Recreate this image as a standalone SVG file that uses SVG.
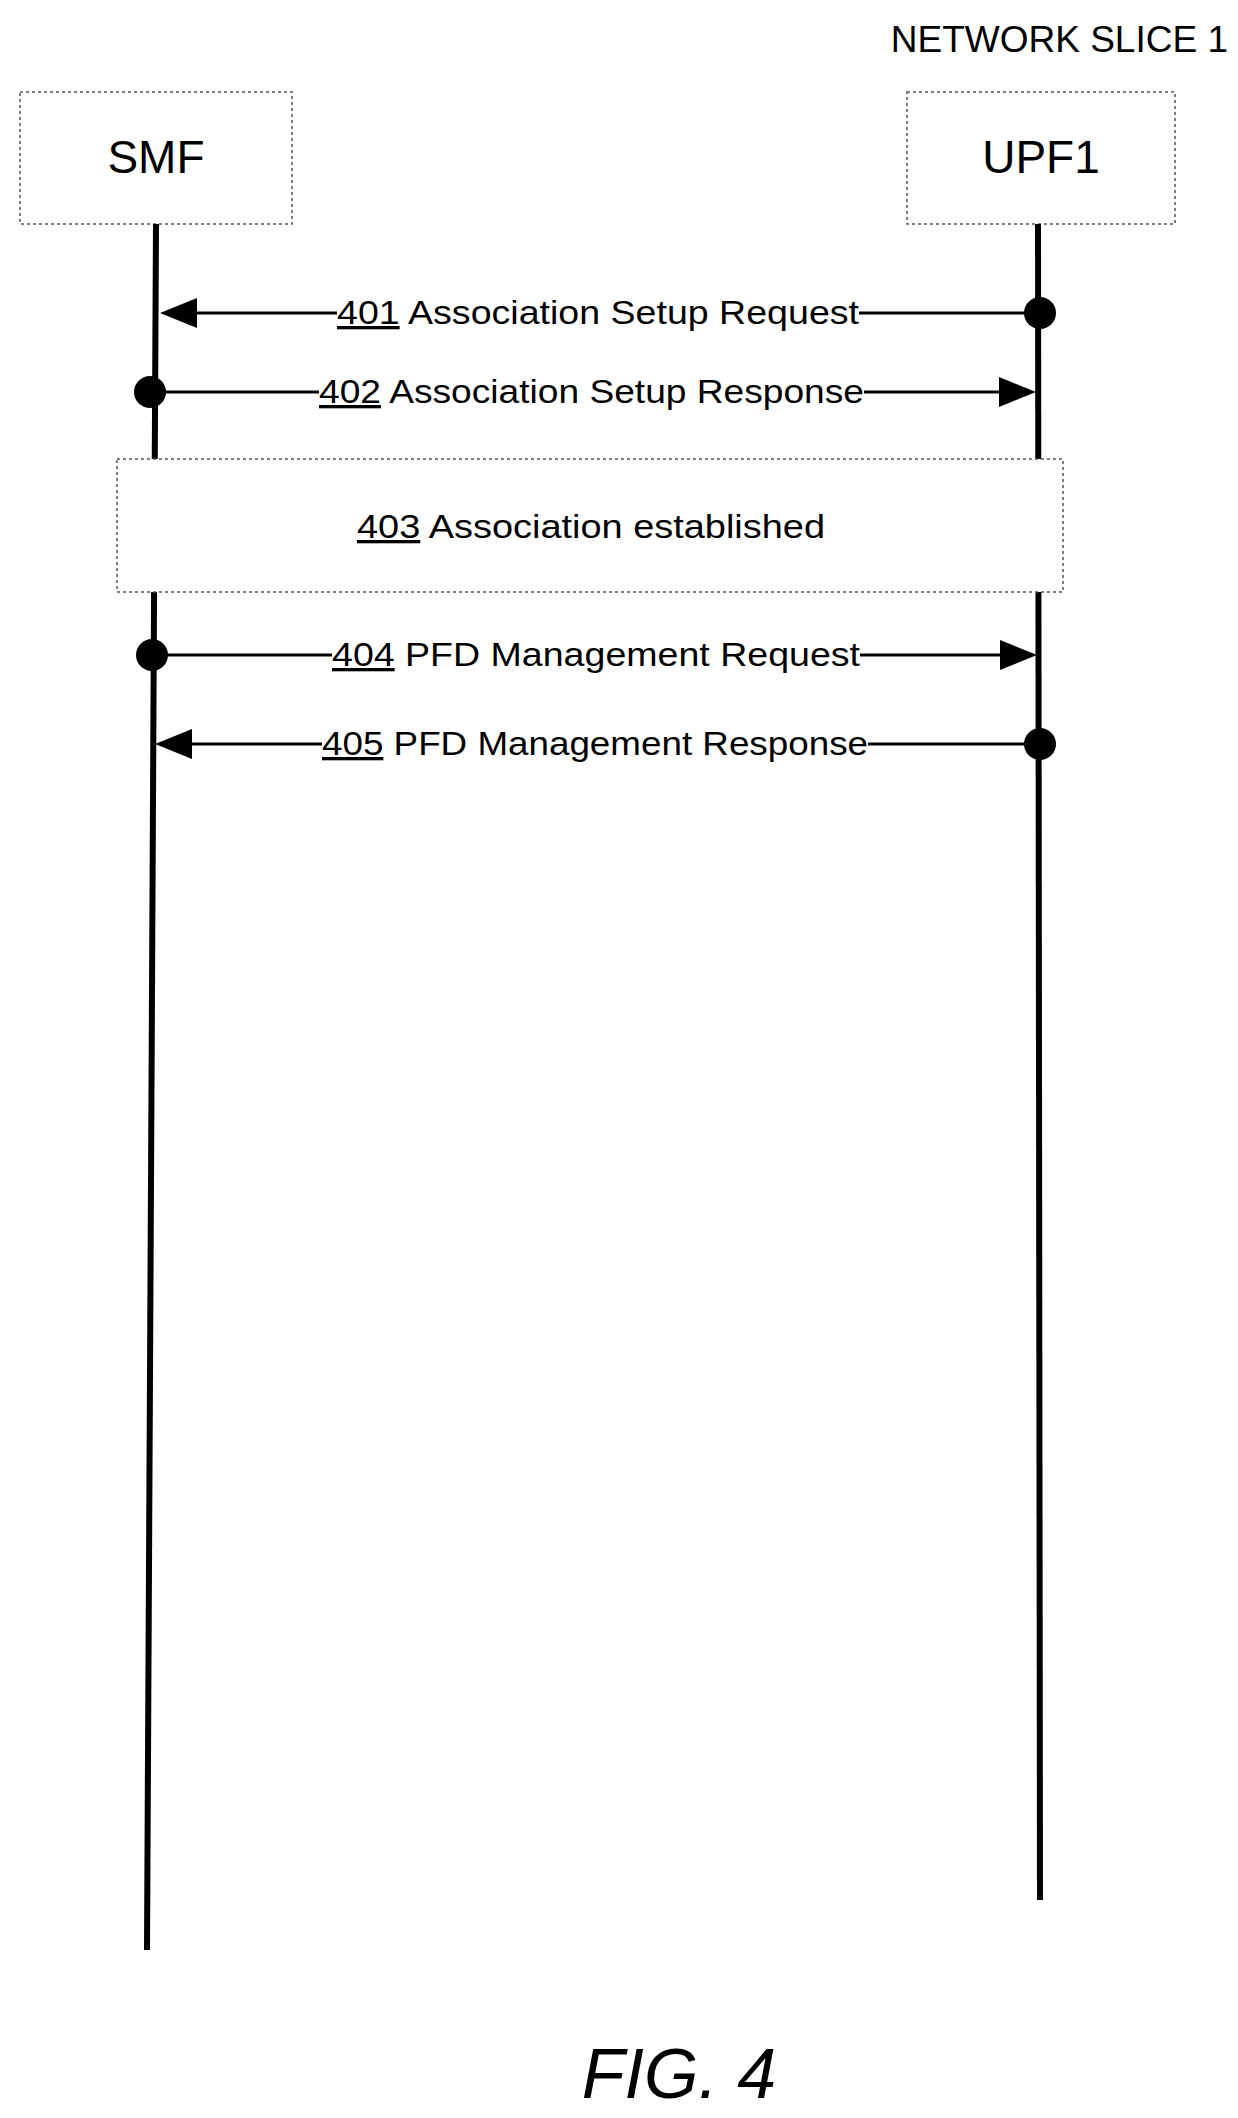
<svg xmlns="http://www.w3.org/2000/svg" width="1238" height="2118" viewBox="0 0 1238 2118">
<style>
text{font-family:"Liberation Sans",Arial,sans-serif;fill:#000}
.box{fill:#fff;stroke:#555;stroke-width:1.5;stroke-dasharray:3,3}
.life{stroke:#000;stroke-width:6}
.msg{stroke:#000;stroke-width:3}
.lbl{font-size:33px}
.bg{fill:#fff}
</style>
<text x="1228" y="52" font-size="37" text-anchor="end">NETWORK SLICE 1</text>
<g id="smf"><rect class="box" x="20" y="92" width="272" height="132"/><text x="156" y="173" font-size="46" text-anchor="middle">SMF</text></g>
<g id="upf1"><rect class="box" x="907" y="92" width="268" height="132"/><text x="1041" y="173" font-size="46" text-anchor="middle">UPF1</text></g>
<g id="lifelines">
<line class="life" x1="156" y1="224" x2="147" y2="1950"/>
<line class="life" x1="1038" y1="224" x2="1040" y2="1900"/>
</g>
<g id="n403"><rect class="box" x="117" y="459" width="946" height="133"/><text x="357" y="538" font-size="33" textLength="468" lengthAdjust="spacingAndGlyphs"><tspan text-decoration="underline">403</tspan> Association established</text></g>
<g id="connectors">
<g id="m401"><line class="msg" x1="1038" y1="313" x2="185" y2="313"/><path d="M160,313 L197,298 L197,328 z"/><circle cx="1040" cy="313" r="16"/>
<rect class="bg" x="337" y="292" width="522" height="40"/><text class="lbl" x="337" y="324" textLength="522" lengthAdjust="spacingAndGlyphs"><tspan text-decoration="underline">401</tspan> Association Setup Request</text></g>
<g id="m402"><line class="msg" x1="152" y1="392" x2="1000" y2="392"/><path d="M1036,392 L999,377 L999,407 z"/><circle cx="150" cy="392" r="16"/>
<rect class="bg" x="319" y="371" width="545" height="40"/><text class="lbl" x="319" y="403" textLength="545" lengthAdjust="spacingAndGlyphs"><tspan text-decoration="underline">402</tspan> Association Setup Response</text></g>
<g id="m404"><line class="msg" x1="152" y1="655" x2="1000" y2="655"/><path d="M1037,655 L1000,640 L1000,670 z"/><circle cx="152" cy="655" r="16"/>
<rect class="bg" x="332" y="634" width="528" height="40"/><text class="lbl" x="332" y="666" textLength="528" lengthAdjust="spacingAndGlyphs"><tspan text-decoration="underline">404</tspan> PFD Management Request</text></g>
<g id="m405"><line class="msg" x1="1038" y1="744" x2="185" y2="744"/><path d="M155,744 L192,729 L192,759 z"/><circle cx="1040" cy="744" r="16"/>
<rect class="bg" x="322" y="723" width="546" height="40"/><text class="lbl" x="322" y="755" textLength="546" lengthAdjust="spacingAndGlyphs"><tspan text-decoration="underline">405</tspan> PFD Management Response</text></g>
</g>
<text x="679" y="2098" font-size="70" font-style="italic" text-anchor="middle">FIG. 4</text>
</svg>
